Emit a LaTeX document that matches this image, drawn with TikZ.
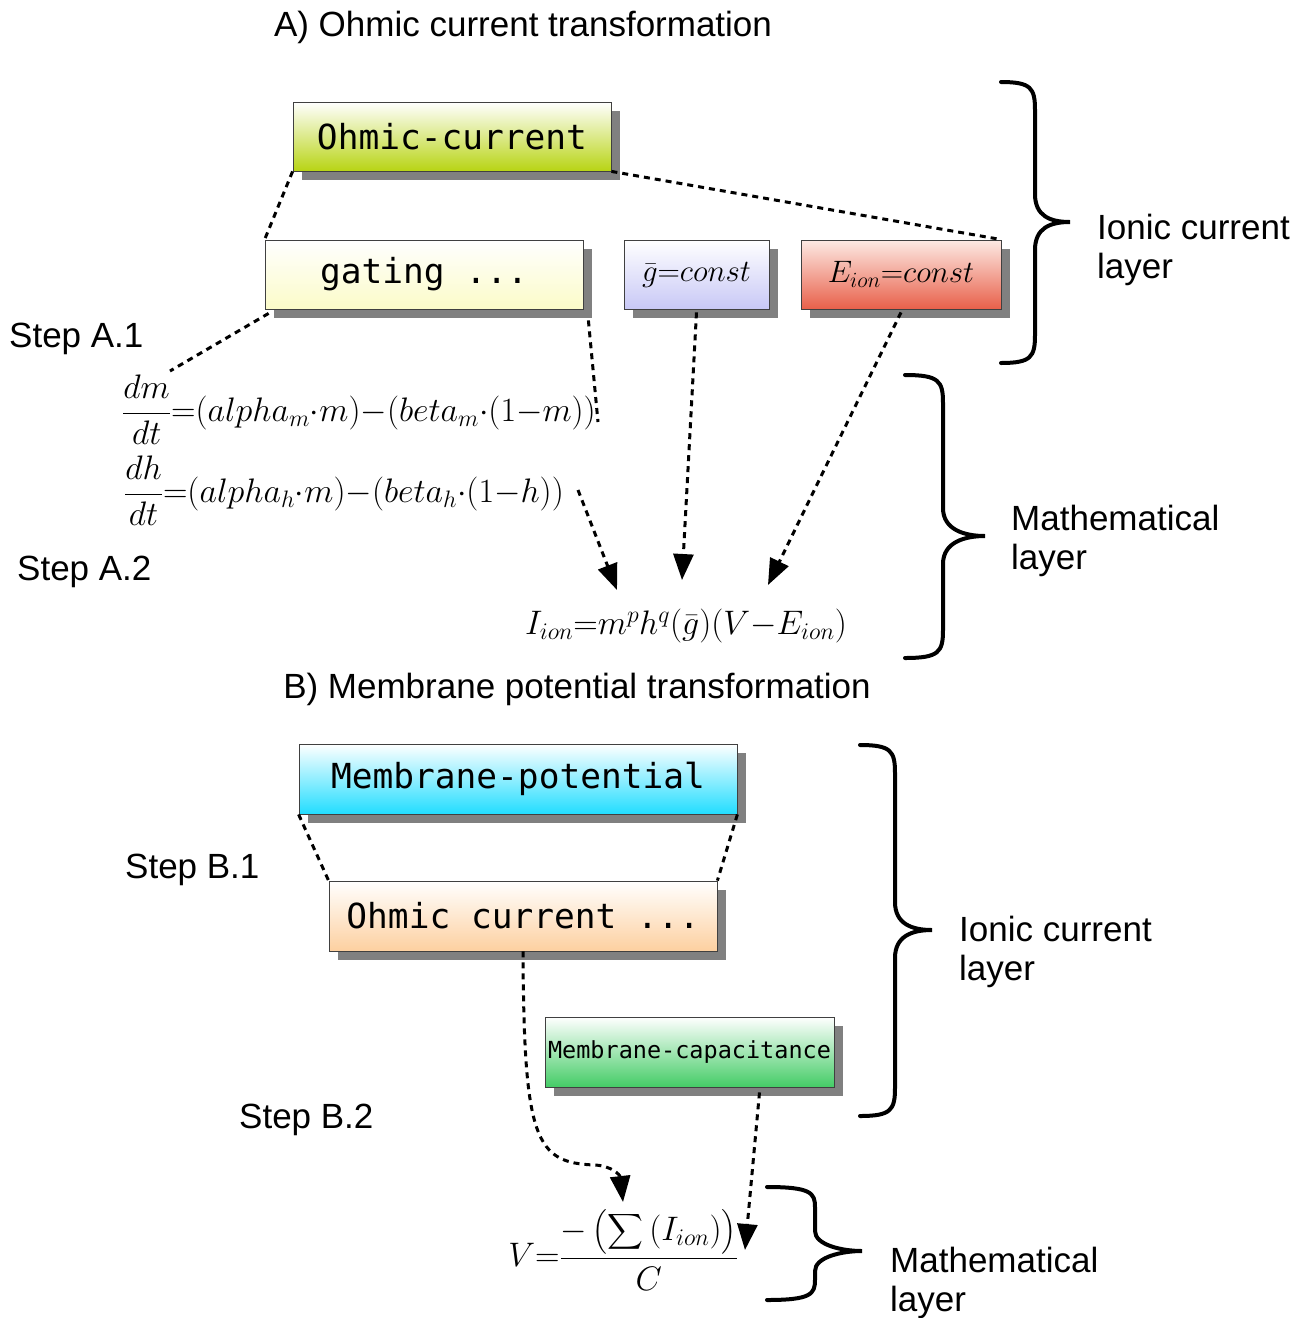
\RequirePackage{fix-cm}
\documentclass[tikz,border=0pt]{standalone}
\usepackage{amsmath}
\usepackage[no-math]{fontspec}
\setmainfont{Liberation Sans}
\newfontfamily\boxmono{DejaVu Sans Mono}
\usetikzlibrary{arrows.meta,shadows}

\definecolor{ohmbot}{HTML}{B8D414}
\definecolor{gatbot}{HTML}{FBFBC8}
\definecolor{gbarbot}{HTML}{C8C8F6}
\definecolor{eiontop}{HTML}{FDEAE4}
\definecolor{eionbot}{HTML}{E8604A}
\definecolor{membot}{HTML}{22DDFF}
\definecolor{peachbot}{HTML}{FDD0A0}
\definecolor{capbot}{HTML}{44CC66}

% curly brace opening to the right: left x, spine x, tip x, top y, mid y, bottom y, bend
\newcommand\layerbrace[7]{%
  \draw[brace] (#1,#4) .. controls (#2-4,#4) and (#2,#4+6) .. (#2,#4+#7)
    -- (#2,#5-#7) .. controls (#2,#5-6) and (#3-20,#5) .. (#3,#5)
    .. controls (#3-20,#5) and (#2,#5+6) .. (#2,#5+#7)
    -- (#2,#6-#7) .. controls (#2,#6-6) and (#2-4,#6) .. (#1,#6);}

\begin{document}
\begin{tikzpicture}[x=1pt,y=-1pt,
  box/.style={draw=black!75, line width=0.8pt, minimum height=69pt, inner sep=0pt,
    drop shadow={shadow xshift=9pt, shadow yshift=-9pt, fill=black!50, opacity=1},
    font=\boxmono\fontsize{34.5}{40}\selectfont},
  link/.style={line width=3pt, dash pattern=on 6pt off 5pt},
  arrowlink/.style={link, -{Triangle[length=26pt,width=20pt]}},
  brace/.style={line width=4pt, line cap=round},
  lbl/.style={font=\fontsize{35}{39}\selectfont, inner sep=0pt, align=left, anchor=west},
  eq/.style={inner sep=0pt, font=\fontsize{34}{40}\selectfont}]
\useasboundingbox (0,0) rectangle (1304,1318);

% ---------- A) Ohmic current transformation ----------
\node[lbl, anchor=center] (titleA) at (523,27) {A) Ohmic current transformation};

\node[box, minimum width=318pt, top color=white, bottom color=ohmbot] (ohm) at (452,136.5) {Ohmic-current};
\node[box, minimum width=318pt, top color=white, bottom color=gatbot] (gating) at (424,274.5) {gating ...};
\node[box, minimum width=145pt, top color=white, bottom color=gbarbot,
      font=\fontsize{31}{36}\selectfont] (gbar) at (696.5,274.5) {$\bar g{=}const$};
\node[box, minimum width=200pt, top color=eiontop, bottom color=eionbot,
      font=\fontsize{31}{36}\selectfont] (eion) at (901,274.5) {$E_{ion}{=}const$};

\node[lbl, anchor=west] (stepA1) at (9,339) {Step A.1};
\node[lbl, anchor=west] (stepA2) at (17,572) {Step A.2};

\node[eq] (dm) at (359,410) {$\displaystyle\frac{dm}{dt}{=}(alpha_m{\cdot}m){-}(beta_m{\cdot}(1{-}m))$};
\node[eq] (dh) at (344,491) {$\displaystyle\frac{dh}{dt}{=}(alpha_h{\cdot}m){-}(beta_h{\cdot}(1{-}h))$};
\node[eq] (iion) at (686,626) {$I_{ion}{=}m^p h^q(\bar g)(V{-}E_{ion})$};

\coordinate (dmtop) at (170,371);
\coordinate (iion-m) at (617,590);
\coordinate (iion-g) at (682,580);
\coordinate (iion-V) at (768,585);

\draw[link] (ohm.south west) -- (gating.north west);
\draw[link] (ohm.south east) -- (eion.north east);
\draw[link] ([xshift=4pt,yshift=-4pt]gating.south west) -- (dmtop);
\draw[link] ([xshift=5pt,yshift=-11pt]gating.south east) -- (598,422);
\draw[arrowlink] (578,490) -- (iion-m);
\draw[arrowlink] ([yshift=-3pt]gbar.south) -- (iion-g);
\draw[arrowlink] ([yshift=-3pt]eion.south) -- (iion-V);

\layerbrace{1001}{1035}{1070}{82}{222}{363}{28}
\node[lbl] (ionicA) at (1097,250) {Ionic current\\layer};
\layerbrace{905}{943}{985}{375}{536}{658}{28}
\node[lbl] (mathA) at (1011,541) {Mathematical\\layer};

% ---------- B) Membrane potential transformation ----------
\node[lbl, anchor=center] (titleB) at (577,689) {B) Membrane potential transformation};

\node[box, minimum width=438pt, minimum height=70pt, top color=white, bottom color=membot] (mem) at (518,779) {Membrane-potential};
\node[box, minimum width=388pt, minimum height=70pt, top color=white, bottom color=peachbot] (ohmdots) at (523,916) {Ohmic current ...};
\node[box, minimum width=289pt, minimum height=70pt, top color=white, bottom color=capbot,
      font=\boxmono\fontsize{23.5}{28}\selectfont] (cap) at (689.5,1052) {Membrane-capacitance};

\node[lbl, anchor=west] (stepB1) at (125,870) {Step B.1};
\node[lbl, anchor=west] (stepB2) at (239,1120) {Step B.2};

\node[eq] (vm) at (623,1250) {$\displaystyle V{=}\frac{-\left(\displaystyle\sum\left(I_{ion}\right)\right)}{C}$};

\coordinate (vm-sum) at (623,1202);
\coordinate (vm-C) at (745,1250);

\draw[link] (mem.south west) -- (ohmdots.north west);
\draw[link] (mem.south east) -- (ohmdots.north east);
\draw[arrowlink] (ohmdots.south) .. controls (524,1140) and (535,1163) .. (595,1165)
   .. controls (612,1166) and (620,1175) .. (vm-sum);
\draw[arrowlink] ([xshift=70pt,yshift=-5pt]cap.south) -- (vm-C);

\layerbrace{860}{895}{932}{745}{930}{1116}{28}
\node[lbl] (ionicB) at (959,952) {Ionic current\\layer};
\layerbrace{767}{815}{862}{1187}{1251}{1300}{20}
\node[lbl] (mathB) at (890,1283) {Mathematical\\layer};
\end{tikzpicture}
\end{document}
